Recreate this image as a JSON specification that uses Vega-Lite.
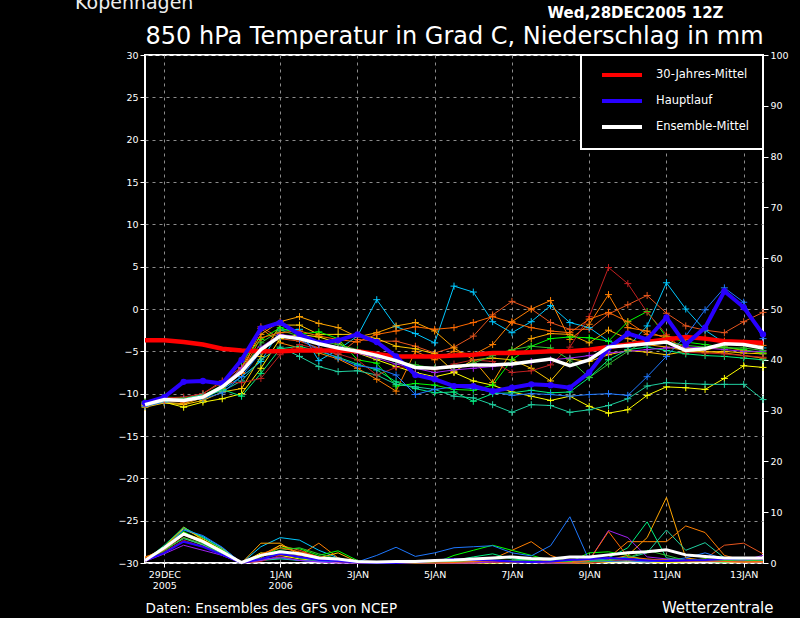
{
"$schema":"https://vega.github.io/schema/vega-lite/v6.json",
"width":618,"height":508,
"autosize":{"type":"none"},
"padding":{"left":145,"top":55,"right":37,"bottom":55},
"background":"black",
"title":{"text":"Kopenhagen","color":"#eeeeee","font":"DejaVu Sans","fontSize":19,"fontWeight":"normal","anchor":"start","frame":"group","dx":-70,"dy":14.5,"offset":-8.5,"baseline":"alphabetic"},
"datasets":{
"ens":[
{"m":"m01","t":"2005-12-28T12:00Z","T":-11.0,"P":0.8},{"m":"m01","t":"2005-12-29T00:00Z","T":-10.5,"P":2.5},{"m":"m01","t":"2005-12-29T12:00Z","T":-10.6,"P":5.5},{"m":"m01","t":"2005-12-30T00:00Z","T":-10.0,"P":4.0},{"m":"m01","t":"2005-12-30T12:00Z","T":-8.5,"P":2.0},{"m":"m01","t":"2005-12-31T00:00Z","T":-6.9,"P":0.2},{"m":"m01","t":"2005-12-31T12:00Z","T":-2.1,"P":1.0},{"m":"m01","t":"2006-01-01T00:00Z","T":-3.5,"P":3.5},{"m":"m01","t":"2006-01-01T12:00Z","T":-3.8,"P":2.5},{"m":"m01","t":"2006-01-02T00:00Z","T":-4.6,"P":1.2},{"m":"m01","t":"2006-01-02T12:00Z","T":-5.4,"P":0.8},{"m":"m01","t":"2006-01-03T00:00Z","T":-3.6,"P":0.2},{"m":"m01","t":"2006-01-03T12:00Z","T":-3.8,"P":0},{"m":"m01","t":"2006-01-04T00:00Z","T":-3.8,"P":0},{"m":"m01","t":"2006-01-04T12:00Z","T":-4.4,"P":0},{"m":"m01","t":"2006-01-05T00:00Z","T":-5.2,"P":0.1},{"m":"m01","t":"2006-01-05T12:00Z","T":-4.5,"P":0.2},{"m":"m01","t":"2006-01-06T00:00Z","T":-3.2,"P":0.3},{"m":"m01","t":"2006-01-06T12:00Z","T":-0.7,"P":0.5},{"m":"m01","t":"2006-01-07T00:00Z","T":0.9,"P":0.3},{"m":"m01","t":"2006-01-07T12:00Z","T":0.0,"P":0.2},{"m":"m01","t":"2006-01-08T00:00Z","T":-1.6,"P":0.1},{"m":"m01","t":"2006-01-08T12:00Z","T":-2.4,"P":0},{"m":"m01","t":"2006-01-09T00:00Z","T":-2.4,"P":0},{"m":"m01","t":"2006-01-09T12:00Z","T":-0.6,"P":0.3},{"m":"m01","t":"2006-01-10T00:00Z","T":0.5,"P":0.5},{"m":"m01","t":"2006-01-10T12:00Z","T":1.6,"P":0.4},{"m":"m01","t":"2006-01-11T00:00Z","T":-0.5,"P":0.6},{"m":"m01","t":"2006-01-11T12:00Z","T":-2.0,"P":0.5},{"m":"m01","t":"2006-01-12T00:00Z","T":-2.5,"P":0.8},{"m":"m01","t":"2006-01-12T12:00Z","T":-2.8,"P":3.5},{"m":"m01","t":"2006-01-13T00:00Z","T":-1.5,"P":3.9},{"m":"m01","t":"2006-01-13T12:00Z","T":-0.4,"P":1.8},
{"m":"m02","t":"2005-12-28T12:00Z","T":-11.2,"P":0.5},{"m":"m02","t":"2005-12-29T00:00Z","T":-10.6,"P":2.8},{"m":"m02","t":"2005-12-29T12:00Z","T":-10.9,"P":6.5},{"m":"m02","t":"2005-12-30T00:00Z","T":-10.3,"P":5.2},{"m":"m02","t":"2005-12-30T12:00Z","T":-9.5,"P":3.0},{"m":"m02","t":"2005-12-31T00:00Z","T":-8.0,"P":0},{"m":"m02","t":"2005-12-31T12:00Z","T":-6.2,"P":3.2},{"m":"m02","t":"2006-01-01T00:00Z","T":-2.5,"P":5.0},{"m":"m02","t":"2006-01-01T12:00Z","T":-2.4,"P":4.5},{"m":"m02","t":"2006-01-02T00:00Z","T":-6.1,"P":2.5},{"m":"m02","t":"2006-01-02T12:00Z","T":-4.8,"P":1.0},{"m":"m02","t":"2006-01-03T00:00Z","T":-3.2,"P":0},{"m":"m02","t":"2006-01-03T12:00Z","T":1.1,"P":0},{"m":"m02","t":"2006-01-04T00:00Z","T":-2.1,"P":0},{"m":"m02","t":"2006-01-04T12:00Z","T":-2.9,"P":0},{"m":"m02","t":"2006-01-05T00:00Z","T":-4.0,"P":0},{"m":"m02","t":"2006-01-05T12:00Z","T":2.7,"P":0.3},{"m":"m02","t":"2006-01-06T00:00Z","T":2.0,"P":0.5},{"m":"m02","t":"2006-01-06T12:00Z","T":-1.5,"P":0.4},{"m":"m02","t":"2006-01-07T00:00Z","T":-2.8,"P":0.3},{"m":"m02","t":"2006-01-07T12:00Z","T":-1.5,"P":0.8},{"m":"m02","t":"2006-01-08T00:00Z","T":0.4,"P":0.5},{"m":"m02","t":"2006-01-08T12:00Z","T":-1.6,"P":0.3},{"m":"m02","t":"2006-01-09T00:00Z","T":-2.2,"P":0.5},{"m":"m02","t":"2006-01-09T12:00Z","T":-3.8,"P":0.8},{"m":"m02","t":"2006-01-10T00:00Z","T":-4.5,"P":1.2},{"m":"m02","t":"2006-01-10T12:00Z","T":-2.0,"P":0.6},{"m":"m02","t":"2006-01-11T00:00Z","T":3.1,"P":0.4},{"m":"m02","t":"2006-01-11T12:00Z","T":0.0,"P":0.3},{"m":"m02","t":"2006-01-12T00:00Z","T":-2.5,"P":0.5},{"m":"m02","t":"2006-01-12T12:00Z","T":-4.0,"P":0.8},{"m":"m02","t":"2006-01-13T00:00Z","T":-4.3,"P":0.6},{"m":"m02","t":"2006-01-13T12:00Z","T":-4.6,"P":0.5},
{"m":"m03","t":"2005-12-28T12:00Z","T":-11.5,"P":1.0},{"m":"m03","t":"2005-12-29T00:00Z","T":-11.0,"P":3.0},{"m":"m03","t":"2005-12-29T12:00Z","T":-11.2,"P":7.1},{"m":"m03","t":"2005-12-30T00:00Z","T":-10.5,"P":4.5},{"m":"m03","t":"2005-12-30T12:00Z","T":-9.0,"P":2.5},{"m":"m03","t":"2005-12-31T00:00Z","T":-7.0,"P":0},{"m":"m03","t":"2005-12-31T12:00Z","T":-3.0,"P":3.9},{"m":"m03","t":"2006-01-01T00:00Z","T":-1.5,"P":3.9},{"m":"m03","t":"2006-01-01T12:00Z","T":-0.9,"P":1.5},{"m":"m03","t":"2006-01-02T00:00Z","T":-1.7,"P":0.8},{"m":"m03","t":"2006-01-02T12:00Z","T":-2.2,"P":0.3},{"m":"m03","t":"2006-01-03T00:00Z","T":-3.3,"P":0},{"m":"m03","t":"2006-01-03T12:00Z","T":-2.8,"P":0},{"m":"m03","t":"2006-01-04T00:00Z","T":-2.0,"P":0},{"m":"m03","t":"2006-01-04T12:00Z","T":-1.6,"P":0},{"m":"m03","t":"2006-01-05T00:00Z","T":-2.6,"P":0},{"m":"m03","t":"2006-01-05T12:00Z","T":-4.6,"P":0},{"m":"m03","t":"2006-01-06T00:00Z","T":-6.0,"P":0.2},{"m":"m03","t":"2006-01-06T12:00Z","T":-8.7,"P":0.3},{"m":"m03","t":"2006-01-07T00:00Z","T":-4.9,"P":0.5},{"m":"m03","t":"2006-01-07T12:00Z","T":-3.5,"P":0.8},{"m":"m03","t":"2006-01-08T00:00Z","T":-2.9,"P":0.3},{"m":"m03","t":"2006-01-08T12:00Z","T":-3.0,"P":0},{"m":"m03","t":"2006-01-09T00:00Z","T":-4.0,"P":0.1},{"m":"m03","t":"2006-01-09T12:00Z","T":-2.5,"P":0.6},{"m":"m03","t":"2006-01-10T00:00Z","T":-3.5,"P":1.5},{"m":"m03","t":"2006-01-10T12:00Z","T":-4.2,"P":5.0},{"m":"m03","t":"2006-01-11T00:00Z","T":-4.5,"P":12.9},{"m":"m03","t":"2006-01-11T12:00Z","T":-4.9,"P":1.0},{"m":"m03","t":"2006-01-12T00:00Z","T":-5.0,"P":0.5},{"m":"m03","t":"2006-01-12T12:00Z","T":-5.2,"P":0.3},{"m":"m03","t":"2006-01-13T00:00Z","T":-5.5,"P":0.3},{"m":"m03","t":"2006-01-13T12:00Z","T":-5.8,"P":0.2},
{"m":"m04","t":"2005-12-28T12:00Z","T":-11.3,"P":1.2},{"m":"m04","t":"2005-12-29T00:00Z","T":-10.8,"P":2.5},{"m":"m04","t":"2005-12-29T12:00Z","T":-10.9,"P":5.0},{"m":"m04","t":"2005-12-30T00:00Z","T":-10.4,"P":3.5},{"m":"m04","t":"2005-12-30T12:00Z","T":-9.4,"P":1.5},{"m":"m04","t":"2005-12-31T00:00Z","T":-7.6,"P":0},{"m":"m04","t":"2005-12-31T12:00Z","T":-2.3,"P":0.5},{"m":"m04","t":"2006-01-01T00:00Z","T":-4.0,"P":1.0},{"m":"m04","t":"2006-01-01T12:00Z","T":-4.6,"P":1.5},{"m":"m04","t":"2006-01-02T00:00Z","T":-5.2,"P":3.9},{"m":"m04","t":"2006-01-02T12:00Z","T":-5.9,"P":1.0},{"m":"m04","t":"2006-01-03T00:00Z","T":-7.0,"P":0},{"m":"m04","t":"2006-01-03T12:00Z","T":-8.3,"P":0},{"m":"m04","t":"2006-01-04T00:00Z","T":-9.7,"P":0},{"m":"m04","t":"2006-01-04T12:00Z","T":-5.0,"P":0},{"m":"m04","t":"2006-01-05T00:00Z","T":-6.0,"P":0},{"m":"m04","t":"2006-01-05T12:00Z","T":-5.0,"P":0.2},{"m":"m04","t":"2006-01-06T00:00Z","T":-5.4,"P":0.5},{"m":"m04","t":"2006-01-06T12:00Z","T":-4.2,"P":0.8},{"m":"m04","t":"2006-01-07T00:00Z","T":-1.5,"P":2.5},{"m":"m04","t":"2006-01-07T12:00Z","T":0.0,"P":4.2},{"m":"m04","t":"2006-01-08T00:00Z","T":1.0,"P":1.5},{"m":"m04","t":"2006-01-08T12:00Z","T":-3.6,"P":0.2},{"m":"m04","t":"2006-01-09T00:00Z","T":-1.8,"P":0.5},{"m":"m04","t":"2006-01-09T12:00Z","T":1.7,"P":1.0},{"m":"m04","t":"2006-01-10T00:00Z","T":-2.2,"P":4.2},{"m":"m04","t":"2006-01-10T12:00Z","T":-2.6,"P":4.2},{"m":"m04","t":"2006-01-11T00:00Z","T":-3.5,"P":4.2},{"m":"m04","t":"2006-01-11T12:00Z","T":-4.6,"P":7.3},{"m":"m04","t":"2006-01-12T00:00Z","T":-4.8,"P":6.0},{"m":"m04","t":"2006-01-12T12:00Z","T":-4.5,"P":1.5},{"m":"m04","t":"2006-01-13T00:00Z","T":-4.9,"P":0.5},{"m":"m04","t":"2006-01-13T12:00Z","T":-5.2,"P":0.8},
{"m":"m05","t":"2005-12-28T12:00Z","T":-11.6,"P":0.3},{"m":"m05","t":"2005-12-29T00:00Z","T":-11.1,"P":3.2},{"m":"m05","t":"2005-12-29T12:00Z","T":-11.3,"P":6.8},{"m":"m05","t":"2005-12-30T00:00Z","T":-10.8,"P":4.8},{"m":"m05","t":"2005-12-30T12:00Z","T":-9.8,"P":2.8},{"m":"m05","t":"2005-12-31T00:00Z","T":-9.4,"P":0.1},{"m":"m05","t":"2005-12-31T12:00Z","T":-5.6,"P":1.5},{"m":"m05","t":"2006-01-01T00:00Z","T":-1.9,"P":3.5},{"m":"m05","t":"2006-01-01T12:00Z","T":-1.9,"P":2.0},{"m":"m05","t":"2006-01-02T00:00Z","T":-3.0,"P":1.0},{"m":"m05","t":"2006-01-02T12:00Z","T":-3.0,"P":2.0},{"m":"m05","t":"2006-01-03T00:00Z","T":-3.0,"P":0.2},{"m":"m05","t":"2006-01-03T12:00Z","T":-3.5,"P":0},{"m":"m05","t":"2006-01-04T00:00Z","T":-4.4,"P":0},{"m":"m05","t":"2006-01-04T12:00Z","T":-4.7,"P":0},{"m":"m05","t":"2006-01-05T00:00Z","T":-5.3,"P":0},{"m":"m05","t":"2006-01-05T12:00Z","T":-7.4,"P":0},{"m":"m05","t":"2006-01-06T00:00Z","T":-6.0,"P":0},{"m":"m05","t":"2006-01-06T12:00Z","T":-5.8,"P":0.2},{"m":"m05","t":"2006-01-07T00:00Z","T":-6.0,"P":0.3},{"m":"m05","t":"2006-01-07T12:00Z","T":-7.0,"P":0.2},{"m":"m05","t":"2006-01-08T00:00Z","T":-8.5,"P":0},{"m":"m05","t":"2006-01-08T12:00Z","T":-5.9,"P":0},{"m":"m05","t":"2006-01-09T00:00Z","T":-6.2,"P":0.2},{"m":"m05","t":"2006-01-09T12:00Z","T":-5.4,"P":0.5},{"m":"m05","t":"2006-01-10T00:00Z","T":-4.9,"P":0.8},{"m":"m05","t":"2006-01-10T12:00Z","T":-5.1,"P":0.5},{"m":"m05","t":"2006-01-11T00:00Z","T":-5.4,"P":0.6},{"m":"m05","t":"2006-01-11T12:00Z","T":-5.0,"P":0.4},{"m":"m05","t":"2006-01-12T00:00Z","T":-5.1,"P":0.3},{"m":"m05","t":"2006-01-12T12:00Z","T":-5.0,"P":0.2},{"m":"m05","t":"2006-01-13T00:00Z","T":-5.2,"P":0.2},{"m":"m05","t":"2006-01-13T12:00Z","T":-5.3,"P":0.3},
{"m":"m06","t":"2005-12-28T12:00Z","T":-11.4,"P":0.2},{"m":"m06","t":"2005-12-29T00:00Z","T":-11.0,"P":2.9},{"m":"m06","t":"2005-12-29T12:00Z","T":-11.6,"P":6.0},{"m":"m06","t":"2005-12-30T00:00Z","T":-11.0,"P":4.5},{"m":"m06","t":"2005-12-30T12:00Z","T":-10.6,"P":2.5},{"m":"m06","t":"2005-12-31T00:00Z","T":-10.0,"P":0},{"m":"m06","t":"2005-12-31T12:00Z","T":-7.0,"P":2.0},{"m":"m06","t":"2006-01-01T00:00Z","T":-3.5,"P":1.5},{"m":"m06","t":"2006-01-01T12:00Z","T":-3.0,"P":0.8},{"m":"m06","t":"2006-01-02T00:00Z","T":-3.3,"P":0.5},{"m":"m06","t":"2006-01-02T12:00Z","T":-4.0,"P":0.2},{"m":"m06","t":"2006-01-03T00:00Z","T":-5.2,"P":0},{"m":"m06","t":"2006-01-03T12:00Z","T":-6.0,"P":0},{"m":"m06","t":"2006-01-04T00:00Z","T":-6.8,"P":0},{"m":"m06","t":"2006-01-04T12:00Z","T":-7.5,"P":0},{"m":"m06","t":"2006-01-05T00:00Z","T":-8.0,"P":0},{"m":"m06","t":"2006-01-05T12:00Z","T":-7.5,"P":0},{"m":"m06","t":"2006-01-06T00:00Z","T":-8.5,"P":0},{"m":"m06","t":"2006-01-06T12:00Z","T":-9.0,"P":0},{"m":"m06","t":"2006-01-07T00:00Z","T":-9.8,"P":0.1},{"m":"m06","t":"2006-01-07T12:00Z","T":-10.3,"P":0.2},{"m":"m06","t":"2006-01-08T00:00Z","T":-10.8,"P":0.1},{"m":"m06","t":"2006-01-08T12:00Z","T":-10.3,"P":0},{"m":"m06","t":"2006-01-09T00:00Z","T":-11.5,"P":0},{"m":"m06","t":"2006-01-09T12:00Z","T":-12.3,"P":0.2},{"m":"m06","t":"2006-01-10T00:00Z","T":-11.9,"P":0.3},{"m":"m06","t":"2006-01-10T12:00Z","T":-10.2,"P":0.2},{"m":"m06","t":"2006-01-11T00:00Z","T":-9.2,"P":0.1},{"m":"m06","t":"2006-01-11T12:00Z","T":-9.3,"P":0.2},{"m":"m06","t":"2006-01-12T00:00Z","T":-9.5,"P":0.3},{"m":"m06","t":"2006-01-12T12:00Z","T":-8.2,"P":0.5},{"m":"m06","t":"2006-01-13T00:00Z","T":-6.7,"P":0.4},{"m":"m06","t":"2006-01-13T12:00Z","T":-6.9,"P":0.3},
{"m":"m07","t":"2005-12-28T12:00Z","T":-11.0,"P":0.6},{"m":"m07","t":"2005-12-29T00:00Z","T":-10.4,"P":3.1},{"m":"m07","t":"2005-12-29T12:00Z","T":-10.5,"P":6.2},{"m":"m07","t":"2005-12-30T00:00Z","T":-10.2,"P":4.0},{"m":"m07","t":"2005-12-30T12:00Z","T":-9.0,"P":2.0},{"m":"m07","t":"2005-12-31T00:00Z","T":-6.2,"P":0},{"m":"m07","t":"2005-12-31T12:00Z","T":-3.6,"P":1.2},{"m":"m07","t":"2006-01-01T00:00Z","T":-2.2,"P":3.0},{"m":"m07","t":"2006-01-01T12:00Z","T":-3.0,"P":2.8},{"m":"m07","t":"2006-01-02T00:00Z","T":-2.7,"P":1.5},{"m":"m07","t":"2006-01-02T12:00Z","T":-3.5,"P":2.4},{"m":"m07","t":"2006-01-03T00:00Z","T":-6.0,"P":0.5},{"m":"m07","t":"2006-01-03T12:00Z","T":-6.4,"P":0},{"m":"m07","t":"2006-01-04T00:00Z","T":-9.1,"P":0},{"m":"m07","t":"2006-01-04T12:00Z","T":-8.8,"P":0},{"m":"m07","t":"2006-01-05T00:00Z","T":-9.0,"P":0},{"m":"m07","t":"2006-01-05T12:00Z","T":-9.5,"P":1.5},{"m":"m07","t":"2006-01-06T00:00Z","T":-9.6,"P":2.5},{"m":"m07","t":"2006-01-06T12:00Z","T":-9.0,"P":3.5},{"m":"m07","t":"2006-01-07T00:00Z","T":-6.0,"P":2.5},{"m":"m07","t":"2006-01-07T12:00Z","T":-4.4,"P":1.5},{"m":"m07","t":"2006-01-08T00:00Z","T":-3.5,"P":0.5},{"m":"m07","t":"2006-01-08T12:00Z","T":-3.3,"P":0.2},{"m":"m07","t":"2006-01-09T00:00Z","T":-3.4,"P":2.0},{"m":"m07","t":"2006-01-09T12:00Z","T":-3.8,"P":2.2},{"m":"m07","t":"2006-01-10T00:00Z","T":-1.5,"P":1.5},{"m":"m07","t":"2006-01-10T12:00Z","T":-0.3,"P":0.5},{"m":"m07","t":"2006-01-11T00:00Z","T":-3.3,"P":0.3},{"m":"m07","t":"2006-01-11T12:00Z","T":-3.9,"P":0.5},{"m":"m07","t":"2006-01-12T00:00Z","T":-4.2,"P":0.8},{"m":"m07","t":"2006-01-12T12:00Z","T":-4.5,"P":0.6},{"m":"m07","t":"2006-01-13T00:00Z","T":-4.8,"P":0.4},{"m":"m07","t":"2006-01-13T12:00Z","T":-5.2,"P":0.5},
{"m":"m08","t":"2005-12-28T12:00Z","T":-11.3,"P":0.4},{"m":"m08","t":"2005-12-29T00:00Z","T":-10.9,"P":3.5},{"m":"m08","t":"2005-12-29T12:00Z","T":-10.8,"P":7.0},{"m":"m08","t":"2005-12-30T00:00Z","T":-10.6,"P":5.0},{"m":"m08","t":"2005-12-30T12:00Z","T":-9.5,"P":2.7},{"m":"m08","t":"2005-12-31T00:00Z","T":-10.3,"P":0},{"m":"m08","t":"2005-12-31T12:00Z","T":-7.6,"P":0.8},{"m":"m08","t":"2006-01-01T00:00Z","T":-4.7,"P":2.0},{"m":"m08","t":"2006-01-01T12:00Z","T":-4.4,"P":1.0},{"m":"m08","t":"2006-01-02T00:00Z","T":-5.0,"P":0.5},{"m":"m08","t":"2006-01-02T12:00Z","T":-5.7,"P":0.5},{"m":"m08","t":"2006-01-03T00:00Z","T":-6.5,"P":0},{"m":"m08","t":"2006-01-03T12:00Z","T":-7.2,"P":0},{"m":"m08","t":"2006-01-04T00:00Z","T":-8.6,"P":0},{"m":"m08","t":"2006-01-04T12:00Z","T":-9.4,"P":0},{"m":"m08","t":"2006-01-05T00:00Z","T":-9.9,"P":0},{"m":"m08","t":"2006-01-05T12:00Z","T":-9.8,"P":0.5},{"m":"m08","t":"2006-01-06T00:00Z","T":-10.9,"P":1.2},{"m":"m08","t":"2006-01-06T12:00Z","T":-10.0,"P":1.8},{"m":"m08","t":"2006-01-07T00:00Z","T":-9.9,"P":0.8},{"m":"m08","t":"2006-01-07T12:00Z","T":-9.6,"P":0.5},{"m":"m08","t":"2006-01-08T00:00Z","T":-9.9,"P":0.2},{"m":"m08","t":"2006-01-08T12:00Z","T":-9.8,"P":0},{"m":"m08","t":"2006-01-09T00:00Z","T":-8.1,"P":0.3},{"m":"m08","t":"2006-01-09T12:00Z","T":-6.0,"P":1.0},{"m":"m08","t":"2006-01-10T00:00Z","T":-4.8,"P":3.0},{"m":"m08","t":"2006-01-10T12:00Z","T":-4.5,"P":8.1},{"m":"m08","t":"2006-01-11T00:00Z","T":-4.9,"P":1.0},{"m":"m08","t":"2006-01-11T12:00Z","T":-5.3,"P":0.5},{"m":"m08","t":"2006-01-12T00:00Z","T":-5.5,"P":0.3},{"m":"m08","t":"2006-01-12T12:00Z","T":-5.6,"P":0.2},{"m":"m08","t":"2006-01-13T00:00Z","T":-5.8,"P":0.4},{"m":"m08","t":"2006-01-13T12:00Z","T":-6.0,"P":0.5},
{"m":"m09","t":"2005-12-28T12:00Z","T":-11.2,"P":0.5},{"m":"m09","t":"2005-12-29T00:00Z","T":-10.7,"P":2.6},{"m":"m09","t":"2005-12-29T12:00Z","T":-10.6,"P":4.8},{"m":"m09","t":"2005-12-30T00:00Z","T":-10.1,"P":3.6},{"m":"m09","t":"2005-12-30T12:00Z","T":-9.7,"P":1.8},{"m":"m09","t":"2005-12-31T00:00Z","T":-8.5,"P":0},{"m":"m09","t":"2005-12-31T12:00Z","T":-6.0,"P":0.5},{"m":"m09","t":"2006-01-01T00:00Z","T":-4.5,"P":0.8},{"m":"m09","t":"2006-01-01T12:00Z","T":-5.6,"P":0.5},{"m":"m09","t":"2006-01-02T00:00Z","T":-6.8,"P":0.3},{"m":"m09","t":"2006-01-02T12:00Z","T":-7.4,"P":0.3},{"m":"m09","t":"2006-01-03T00:00Z","T":-7.3,"P":0},{"m":"m09","t":"2006-01-03T12:00Z","T":-7.8,"P":0},{"m":"m09","t":"2006-01-04T00:00Z","T":-8.9,"P":0},{"m":"m09","t":"2006-01-04T12:00Z","T":-9.2,"P":0},{"m":"m09","t":"2006-01-05T00:00Z","T":-9.5,"P":0},{"m":"m09","t":"2006-01-05T12:00Z","T":-10.3,"P":0.2},{"m":"m09","t":"2006-01-06T00:00Z","T":-10.5,"P":0.3},{"m":"m09","t":"2006-01-06T12:00Z","T":-11.3,"P":0.5},{"m":"m09","t":"2006-01-07T00:00Z","T":-12.2,"P":0.3},{"m":"m09","t":"2006-01-07T12:00Z","T":-11.3,"P":0.2},{"m":"m09","t":"2006-01-08T00:00Z","T":-11.4,"P":0},{"m":"m09","t":"2006-01-08T12:00Z","T":-12.2,"P":0},{"m":"m09","t":"2006-01-09T00:00Z","T":-11.9,"P":0.2},{"m":"m09","t":"2006-01-09T12:00Z","T":-11.4,"P":0.5},{"m":"m09","t":"2006-01-10T00:00Z","T":-10.6,"P":1.0},{"m":"m09","t":"2006-01-10T12:00Z","T":-9.1,"P":2.0},{"m":"m09","t":"2006-01-11T00:00Z","T":-8.7,"P":6.5},{"m":"m09","t":"2006-01-11T12:00Z","T":-8.8,"P":2.5},{"m":"m09","t":"2006-01-12T00:00Z","T":-8.9,"P":4.0},{"m":"m09","t":"2006-01-12T12:00Z","T":-8.9,"P":1.0},{"m":"m09","t":"2006-01-13T00:00Z","T":-8.9,"P":0.5},{"m":"m09","t":"2006-01-13T12:00Z","T":-10.7,"P":0.3},
{"m":"m10","t":"2005-12-28T12:00Z","T":-11.1,"P":0.9},{"m":"m10","t":"2005-12-29T00:00Z","T":-10.5,"P":2.2},{"m":"m10","t":"2005-12-29T12:00Z","T":-10.4,"P":4.5},{"m":"m10","t":"2005-12-30T00:00Z","T":-10.0,"P":3.2},{"m":"m10","t":"2005-12-30T12:00Z","T":-8.7,"P":1.6},{"m":"m10","t":"2005-12-31T00:00Z","T":-8.7,"P":0},{"m":"m10","t":"2005-12-31T12:00Z","T":-8.2,"P":0.3},{"m":"m10","t":"2006-01-01T00:00Z","T":-5.4,"P":1.5},{"m":"m10","t":"2006-01-01T12:00Z","T":-4.2,"P":2.0},{"m":"m10","t":"2006-01-02T00:00Z","T":-4.7,"P":1.0},{"m":"m10","t":"2006-01-02T12:00Z","T":-5.3,"P":0.2},{"m":"m10","t":"2006-01-03T00:00Z","T":-6.0,"P":0},{"m":"m10","t":"2006-01-03T12:00Z","T":-7.8,"P":0},{"m":"m10","t":"2006-01-04T00:00Z","T":-6.9,"P":0},{"m":"m10","t":"2006-01-04T12:00Z","T":-6.8,"P":0},{"m":"m10","t":"2006-01-05T00:00Z","T":-7.2,"P":0},{"m":"m10","t":"2006-01-05T12:00Z","T":-6.5,"P":0},{"m":"m10","t":"2006-01-06T00:00Z","T":-6.0,"P":0},{"m":"m10","t":"2006-01-06T12:00Z","T":-6.2,"P":0.1},{"m":"m10","t":"2006-01-07T00:00Z","T":-7.5,"P":0.2},{"m":"m10","t":"2006-01-07T12:00Z","T":-7.3,"P":0.1},{"m":"m10","t":"2006-01-08T00:00Z","T":-6.6,"P":0},{"m":"m10","t":"2006-01-08T12:00Z","T":-4.5,"P":0},{"m":"m10","t":"2006-01-09T00:00Z","T":-0.9,"P":0},{"m":"m10","t":"2006-01-09T12:00Z","T":4.9,"P":0.3},{"m":"m10","t":"2006-01-10T00:00Z","T":3.0,"P":0.8},{"m":"m10","t":"2006-01-10T12:00Z","T":-0.4,"P":0.5},{"m":"m10","t":"2006-01-11T00:00Z","T":-3.0,"P":0.3},{"m":"m10","t":"2006-01-11T12:00Z","T":-5.1,"P":0.4},{"m":"m10","t":"2006-01-12T00:00Z","T":-5.2,"P":0.6},{"m":"m10","t":"2006-01-12T12:00Z","T":-5.3,"P":0.3},{"m":"m10","t":"2006-01-13T00:00Z","T":-5.5,"P":0.2},{"m":"m10","t":"2006-01-13T12:00Z","T":-5.7,"P":0.2},
{"m":"m11","t":"2005-12-28T12:00Z","T":-11.5,"P":0.7},{"m":"m11","t":"2005-12-29T00:00Z","T":-11.0,"P":2.7},{"m":"m11","t":"2005-12-29T12:00Z","T":-10.9,"P":6.6},{"m":"m11","t":"2005-12-30T00:00Z","T":-10.6,"P":5.4},{"m":"m11","t":"2005-12-30T12:00Z","T":-9.9,"P":3.1},{"m":"m11","t":"2005-12-31T00:00Z","T":-8.0,"P":0},{"m":"m11","t":"2005-12-31T12:00Z","T":-5.0,"P":0.8},{"m":"m11","t":"2006-01-01T00:00Z","T":-3.3,"P":1.0},{"m":"m11","t":"2006-01-01T12:00Z","T":-3.6,"P":0.5},{"m":"m11","t":"2006-01-02T00:00Z","T":-4.8,"P":0.3},{"m":"m11","t":"2006-01-02T12:00Z","T":-5.8,"P":0.5},{"m":"m11","t":"2006-01-03T00:00Z","T":-6.7,"P":0.2},{"m":"m11","t":"2006-01-03T12:00Z","T":-7.0,"P":1.5},{"m":"m11","t":"2006-01-04T00:00Z","T":-7.8,"P":3.1},{"m":"m11","t":"2006-01-04T12:00Z","T":-10.1,"P":1.3},{"m":"m11","t":"2006-01-05T00:00Z","T":-9.5,"P":2.0},{"m":"m11","t":"2006-01-05T12:00Z","T":-9.2,"P":3.0},{"m":"m11","t":"2006-01-06T00:00Z","T":-9.4,"P":3.2},{"m":"m11","t":"2006-01-06T12:00Z","T":-9.8,"P":3.4},{"m":"m11","t":"2006-01-07T00:00Z","T":-10.2,"P":2.0},{"m":"m11","t":"2006-01-07T12:00Z","T":-10.0,"P":1.4},{"m":"m11","t":"2006-01-08T00:00Z","T":-10.1,"P":3.4},{"m":"m11","t":"2006-01-08T12:00Z","T":-10.3,"P":9.1},{"m":"m11","t":"2006-01-09T00:00Z","T":-10.1,"P":0.5},{"m":"m11","t":"2006-01-09T12:00Z","T":-10.0,"P":0.3},{"m":"m11","t":"2006-01-10T00:00Z","T":-10.2,"P":0.4},{"m":"m11","t":"2006-01-10T12:00Z","T":-8.0,"P":0.2},{"m":"m11","t":"2006-01-11T00:00Z","T":-5.6,"P":0.5},{"m":"m11","t":"2006-01-11T12:00Z","T":-3.2,"P":1.0},{"m":"m11","t":"2006-01-12T00:00Z","T":-0.1,"P":2.0},{"m":"m11","t":"2006-01-12T12:00Z","T":2.5,"P":0.8},{"m":"m11","t":"2006-01-13T00:00Z","T":0.8,"P":0.6},{"m":"m11","t":"2006-01-13T12:00Z","T":-3.5,"P":0.5},
{"m":"m12","t":"2005-12-28T12:00Z","T":-11.2,"P":0.3},{"m":"m12","t":"2005-12-29T00:00Z","T":-10.8,"P":1.8},{"m":"m12","t":"2005-12-29T12:00Z","T":-10.7,"P":3.5},{"m":"m12","t":"2005-12-30T00:00Z","T":-10.3,"P":2.5},{"m":"m12","t":"2005-12-30T12:00Z","T":-9.1,"P":1.5},{"m":"m12","t":"2005-12-31T00:00Z","T":-7.0,"P":0},{"m":"m12","t":"2005-12-31T12:00Z","T":-4.5,"P":0.5},{"m":"m12","t":"2006-01-01T00:00Z","T":-3.0,"P":1.2},{"m":"m12","t":"2006-01-01T12:00Z","T":-3.3,"P":0.5},{"m":"m12","t":"2006-01-02T00:00Z","T":-4.0,"P":0.2},{"m":"m12","t":"2006-01-02T12:00Z","T":-4.5,"P":0},{"m":"m12","t":"2006-01-03T00:00Z","T":-5.2,"P":0},{"m":"m12","t":"2006-01-03T12:00Z","T":-5.8,"P":0},{"m":"m12","t":"2006-01-04T00:00Z","T":-6.5,"P":0},{"m":"m12","t":"2006-01-04T12:00Z","T":-7.0,"P":0},{"m":"m12","t":"2006-01-05T00:00Z","T":-7.5,"P":0},{"m":"m12","t":"2006-01-05T12:00Z","T":-7.2,"P":0},{"m":"m12","t":"2006-01-06T00:00Z","T":-7.0,"P":0},{"m":"m12","t":"2006-01-06T12:00Z","T":-6.8,"P":0.2},{"m":"m12","t":"2006-01-07T00:00Z","T":-6.5,"P":0.3},{"m":"m12","t":"2006-01-07T12:00Z","T":-6.2,"P":0.1},{"m":"m12","t":"2006-01-08T00:00Z","T":-6.0,"P":0},{"m":"m12","t":"2006-01-08T12:00Z","T":-5.8,"P":0},{"m":"m12","t":"2006-01-09T00:00Z","T":-5.5,"P":0.5},{"m":"m12","t":"2006-01-09T12:00Z","T":-5.2,"P":6.4},{"m":"m12","t":"2006-01-10T00:00Z","T":-5.0,"P":5.0},{"m":"m12","t":"2006-01-10T12:00Z","T":-4.8,"P":1.2},{"m":"m12","t":"2006-01-11T00:00Z","T":-4.6,"P":0.8},{"m":"m12","t":"2006-01-11T12:00Z","T":-4.5,"P":0.6},{"m":"m12","t":"2006-01-12T00:00Z","T":-4.6,"P":0.3},{"m":"m12","t":"2006-01-12T12:00Z","T":-4.8,"P":0.3},{"m":"m12","t":"2006-01-13T00:00Z","T":-5.0,"P":0.5},{"m":"m12","t":"2006-01-13T12:00Z","T":-5.0,"P":1.5},
{"m":"m13","t":"2005-12-28T12:00Z","T":-11.0,"P":0.5},{"m":"m13","t":"2005-12-29T00:00Z","T":-10.6,"P":2.4},{"m":"m13","t":"2005-12-29T12:00Z","T":-10.8,"P":5.0},{"m":"m13","t":"2005-12-30T00:00Z","T":-10.3,"P":3.8},{"m":"m13","t":"2005-12-30T12:00Z","T":-9.3,"P":2.0},{"m":"m13","t":"2005-12-31T00:00Z","T":-7.5,"P":0},{"m":"m13","t":"2005-12-31T12:00Z","T":-4.0,"P":1.5},{"m":"m13","t":"2006-01-01T00:00Z","T":-2.5,"P":2.5},{"m":"m13","t":"2006-01-01T12:00Z","T":-3.2,"P":3.0},{"m":"m13","t":"2006-01-02T00:00Z","T":-3.8,"P":1.8},{"m":"m13","t":"2006-01-02T12:00Z","T":-4.2,"P":0.8},{"m":"m13","t":"2006-01-03T00:00Z","T":-4.8,"P":0.1},{"m":"m13","t":"2006-01-03T12:00Z","T":-5.5,"P":0},{"m":"m13","t":"2006-01-04T00:00Z","T":-6.2,"P":0},{"m":"m13","t":"2006-01-04T12:00Z","T":-6.6,"P":0},{"m":"m13","t":"2006-01-05T00:00Z","T":-7.0,"P":0.2},{"m":"m13","t":"2006-01-05T12:00Z","T":-6.9,"P":0.3},{"m":"m13","t":"2006-01-06T00:00Z","T":-6.4,"P":0.5},{"m":"m13","t":"2006-01-06T12:00Z","T":-5.5,"P":0.6},{"m":"m13","t":"2006-01-07T00:00Z","T":-4.8,"P":0.5},{"m":"m13","t":"2006-01-07T12:00Z","T":-4.4,"P":0.4},{"m":"m13","t":"2006-01-08T00:00Z","T":-4.6,"P":0.8},{"m":"m13","t":"2006-01-08T12:00Z","T":-6.0,"P":0.5},{"m":"m13","t":"2006-01-09T00:00Z","T":-8.1,"P":0.3},{"m":"m13","t":"2006-01-09T12:00Z","T":-6.5,"P":0.5},{"m":"m13","t":"2006-01-10T00:00Z","T":-5.0,"P":1.0},{"m":"m13","t":"2006-01-10T12:00Z","T":-3.6,"P":2.5},{"m":"m13","t":"2006-01-11T00:00Z","T":-3.9,"P":1.5},{"m":"m13","t":"2006-01-11T12:00Z","T":-4.3,"P":0.5},{"m":"m13","t":"2006-01-12T00:00Z","T":-4.5,"P":0.4},{"m":"m13","t":"2006-01-12T12:00Z","T":-4.6,"P":0.5},{"m":"m13","t":"2006-01-13T00:00Z","T":-4.6,"P":0.6},{"m":"m13","t":"2006-01-13T12:00Z","T":-4.9,"P":0.4},
{"m":"m14","t":"2005-12-28T12:00Z","T":-11.3,"P":0.6},{"m":"m14","t":"2005-12-29T00:00Z","T":-10.8,"P":2.6},{"m":"m14","t":"2005-12-29T12:00Z","T":-11.0,"P":5.8},{"m":"m14","t":"2005-12-30T00:00Z","T":-10.5,"P":4.2},{"m":"m14","t":"2005-12-30T12:00Z","T":-9.0,"P":2.2},{"m":"m14","t":"2005-12-31T00:00Z","T":-7.5,"P":0},{"m":"m14","t":"2005-12-31T12:00Z","T":-3.4,"P":1.8},{"m":"m14","t":"2006-01-01T00:00Z","T":-2.8,"P":3.0},{"m":"m14","t":"2006-01-01T12:00Z","T":-2.6,"P":2.2},{"m":"m14","t":"2006-01-02T00:00Z","T":-3.2,"P":1.2},{"m":"m14","t":"2006-01-02T12:00Z","T":-3.6,"P":0.5},{"m":"m14","t":"2006-01-03T00:00Z","T":-3.9,"P":0},{"m":"m14","t":"2006-01-03T12:00Z","T":-3.0,"P":0},{"m":"m14","t":"2006-01-04T00:00Z","T":-2.6,"P":0},{"m":"m14","t":"2006-01-04T12:00Z","T":-2.1,"P":0},{"m":"m14","t":"2006-01-05T00:00Z","T":-2.4,"P":0},{"m":"m14","t":"2006-01-05T12:00Z","T":-2.2,"P":0.1},{"m":"m14","t":"2006-01-06T00:00Z","T":-1.6,"P":0.3},{"m":"m14","t":"2006-01-06T12:00Z","T":-0.9,"P":0.3},{"m":"m14","t":"2006-01-07T00:00Z","T":-1.6,"P":0.2},{"m":"m14","t":"2006-01-07T12:00Z","T":-2.2,"P":0.3},{"m":"m14","t":"2006-01-08T00:00Z","T":-2.6,"P":0.2},{"m":"m14","t":"2006-01-08T12:00Z","T":-2.8,"P":0},{"m":"m14","t":"2006-01-09T00:00Z","T":-1.2,"P":0.5},{"m":"m14","t":"2006-01-09T12:00Z","T":-0.4,"P":6.2},{"m":"m14","t":"2006-01-10T00:00Z","T":-1.5,"P":1.2},{"m":"m14","t":"2006-01-10T12:00Z","T":-3.0,"P":0.8},{"m":"m14","t":"2006-01-11T00:00Z","T":-3.2,"P":0.5},{"m":"m14","t":"2006-01-11T12:00Z","T":-3.6,"P":0.3},{"m":"m14","t":"2006-01-12T00:00Z","T":-3.4,"P":0.4},{"m":"m14","t":"2006-01-12T12:00Z","T":-3.8,"P":0.3},{"m":"m14","t":"2006-01-13T00:00Z","T":-4.0,"P":0.2},{"m":"m14","t":"2006-01-13T12:00Z","T":-4.3,"P":0.3}
],
"spec":[
{"s":"30-Jahres-Mittel","t":"2005-12-28T12:00Z","T":-3.7},{"s":"30-Jahres-Mittel","t":"2005-12-29T00:00Z","T":-3.7},{"s":"30-Jahres-Mittel","t":"2005-12-29T12:00Z","T":-3.9},{"s":"30-Jahres-Mittel","t":"2005-12-30T00:00Z","T":-4.2},{"s":"30-Jahres-Mittel","t":"2005-12-30T12:00Z","T":-4.7},{"s":"30-Jahres-Mittel","t":"2005-12-31T00:00Z","T":-4.9},{"s":"30-Jahres-Mittel","t":"2005-12-31T12:00Z","T":-5.0},{"s":"30-Jahres-Mittel","t":"2006-01-01T00:00Z","T":-5.0},{"s":"30-Jahres-Mittel","t":"2006-01-01T12:00Z","T":-4.9},{"s":"30-Jahres-Mittel","t":"2006-01-02T00:00Z","T":-4.9},{"s":"30-Jahres-Mittel","t":"2006-01-02T12:00Z","T":-4.9},{"s":"30-Jahres-Mittel","t":"2006-01-03T00:00Z","T":-5.0},{"s":"30-Jahres-Mittel","t":"2006-01-03T12:00Z","T":-5.3},{"s":"30-Jahres-Mittel","t":"2006-01-04T00:00Z","T":-5.6},{"s":"30-Jahres-Mittel","t":"2006-01-04T12:00Z","T":-5.6},{"s":"30-Jahres-Mittel","t":"2006-01-05T00:00Z","T":-5.6},{"s":"30-Jahres-Mittel","t":"2006-01-05T12:00Z","T":-5.5},{"s":"30-Jahres-Mittel","t":"2006-01-06T00:00Z","T":-5.4},{"s":"30-Jahres-Mittel","t":"2006-01-06T12:00Z","T":-5.2},{"s":"30-Jahres-Mittel","t":"2006-01-07T00:00Z","T":-5.2},{"s":"30-Jahres-Mittel","t":"2006-01-07T12:00Z","T":-5.1},{"s":"30-Jahres-Mittel","t":"2006-01-08T00:00Z","T":-5.0},{"s":"30-Jahres-Mittel","t":"2006-01-08T12:00Z","T":-5.0},{"s":"30-Jahres-Mittel","t":"2006-01-09T00:00Z","T":-4.8},{"s":"30-Jahres-Mittel","t":"2006-01-09T12:00Z","T":-4.5},{"s":"30-Jahres-Mittel","t":"2006-01-10T00:00Z","T":-4.2},{"s":"30-Jahres-Mittel","t":"2006-01-10T12:00Z","T":-3.9},{"s":"30-Jahres-Mittel","t":"2006-01-11T00:00Z","T":-3.6},{"s":"30-Jahres-Mittel","t":"2006-01-11T12:00Z","T":-3.3},{"s":"30-Jahres-Mittel","t":"2006-01-12T00:00Z","T":-3.5},{"s":"30-Jahres-Mittel","t":"2006-01-12T12:00Z","T":-3.8},{"s":"30-Jahres-Mittel","t":"2006-01-13T00:00Z","T":-3.9},{"s":"30-Jahres-Mittel","t":"2006-01-13T12:00Z","T":-4.0},
{"s":"Hauptlauf","t":"2005-12-28T12:00Z","T":-11.1,"P":0.5},{"s":"Hauptlauf","t":"2005-12-29T00:00Z","T":-10.4,"P":2.0},{"s":"Hauptlauf","t":"2005-12-29T12:00Z","T":-8.6,"P":4.2},{"s":"Hauptlauf","t":"2005-12-30T00:00Z","T":-8.5,"P":3.2},{"s":"Hauptlauf","t":"2005-12-30T12:00Z","T":-8.8,"P":1.6},{"s":"Hauptlauf","t":"2005-12-31T00:00Z","T":-6.0,"P":0},{"s":"Hauptlauf","t":"2005-12-31T12:00Z","T":-2.3,"P":0.8},{"s":"Hauptlauf","t":"2006-01-01T00:00Z","T":-1.6,"P":1.8},{"s":"Hauptlauf","t":"2006-01-01T12:00Z","T":-3.0,"P":1.2},{"s":"Hauptlauf","t":"2006-01-02T00:00Z","T":-4.0,"P":0.6},{"s":"Hauptlauf","t":"2006-01-02T12:00Z","T":-3.7,"P":0.4},{"s":"Hauptlauf","t":"2006-01-03T00:00Z","T":-3.0,"P":0.1},{"s":"Hauptlauf","t":"2006-01-03T12:00Z","T":-3.9,"P":0},{"s":"Hauptlauf","t":"2006-01-04T00:00Z","T":-5.6,"P":0},{"s":"Hauptlauf","t":"2006-01-04T12:00Z","T":-7.8,"P":0.2},{"s":"Hauptlauf","t":"2006-01-05T00:00Z","T":-8.3,"P":0.5},{"s":"Hauptlauf","t":"2006-01-05T12:00Z","T":-9.1,"P":0.8},{"s":"Hauptlauf","t":"2006-01-06T00:00Z","T":-9.1,"P":0.6},{"s":"Hauptlauf","t":"2006-01-06T12:00Z","T":-9.7,"P":0.5},{"s":"Hauptlauf","t":"2006-01-07T00:00Z","T":-9.3,"P":0.3},{"s":"Hauptlauf","t":"2006-01-07T12:00Z","T":-8.9,"P":0.2},{"s":"Hauptlauf","t":"2006-01-08T00:00Z","T":-9.0,"P":0.3},{"s":"Hauptlauf","t":"2006-01-08T12:00Z","T":-9.3,"P":0.6},{"s":"Hauptlauf","t":"2006-01-09T00:00Z","T":-7.5,"P":0.8},{"s":"Hauptlauf","t":"2006-01-09T12:00Z","T":-4.6,"P":1.0},{"s":"Hauptlauf","t":"2006-01-10T00:00Z","T":-2.9,"P":0.8},{"s":"Hauptlauf","t":"2006-01-10T12:00Z","T":-3.6,"P":0.5},{"s":"Hauptlauf","t":"2006-01-11T00:00Z","T":-1.0,"P":0.4},{"s":"Hauptlauf","t":"2006-01-11T12:00Z","T":-4.2,"P":0.5},{"s":"Hauptlauf","t":"2006-01-12T00:00Z","T":-2.2,"P":0.6},{"s":"Hauptlauf","t":"2006-01-12T12:00Z","T":2.1,"P":0.8},{"s":"Hauptlauf","t":"2006-01-13T00:00Z","T":0.2,"P":1.0},{"s":"Hauptlauf","t":"2006-01-13T12:00Z","T":-3.0,"P":0.9},
{"s":"Ensemble-Mittel","t":"2005-12-28T12:00Z","T":-11.3,"P":0.5},{"s":"Ensemble-Mittel","t":"2005-12-29T00:00Z","T":-10.7,"P":3.0},{"s":"Ensemble-Mittel","t":"2005-12-29T12:00Z","T":-10.8,"P":5.7},{"s":"Ensemble-Mittel","t":"2005-12-30T00:00Z","T":-10.4,"P":4.2},{"s":"Ensemble-Mittel","t":"2005-12-30T12:00Z","T":-9.2,"P":2.2},{"s":"Ensemble-Mittel","t":"2005-12-31T00:00Z","T":-7.4,"P":0.1},{"s":"Ensemble-Mittel","t":"2005-12-31T12:00Z","T":-4.8,"P":1.5},{"s":"Ensemble-Mittel","t":"2006-01-01T00:00Z","T":-3.2,"P":2.2},{"s":"Ensemble-Mittel","t":"2006-01-01T12:00Z","T":-3.5,"P":1.8},{"s":"Ensemble-Mittel","t":"2006-01-02T00:00Z","T":-4.1,"P":1.0},{"s":"Ensemble-Mittel","t":"2006-01-02T12:00Z","T":-4.6,"P":0.8},{"s":"Ensemble-Mittel","t":"2006-01-03T00:00Z","T":-5.0,"P":0.3},{"s":"Ensemble-Mittel","t":"2006-01-03T12:00Z","T":-5.5,"P":0.2},{"s":"Ensemble-Mittel","t":"2006-01-04T00:00Z","T":-6.1,"P":0.3},{"s":"Ensemble-Mittel","t":"2006-01-04T12:00Z","T":-6.9,"P":0.3},{"s":"Ensemble-Mittel","t":"2006-01-05T00:00Z","T":-7.0,"P":0.5},{"s":"Ensemble-Mittel","t":"2006-01-05T12:00Z","T":-6.8,"P":0.6},{"s":"Ensemble-Mittel","t":"2006-01-06T00:00Z","T":-6.6,"P":0.8},{"s":"Ensemble-Mittel","t":"2006-01-06T12:00Z","T":-6.6,"P":1.0},{"s":"Ensemble-Mittel","t":"2006-01-07T00:00Z","T":-6.5,"P":1.2},{"s":"Ensemble-Mittel","t":"2006-01-07T12:00Z","T":-6.2,"P":0.9},{"s":"Ensemble-Mittel","t":"2006-01-08T00:00Z","T":-5.9,"P":0.8},{"s":"Ensemble-Mittel","t":"2006-01-08T12:00Z","T":-6.7,"P":1.2},{"s":"Ensemble-Mittel","t":"2006-01-09T00:00Z","T":-6.0,"P":1.2},{"s":"Ensemble-Mittel","t":"2006-01-09T12:00Z","T":-4.5,"P":1.6},{"s":"Ensemble-Mittel","t":"2006-01-10T00:00Z","T":-4.3,"P":2.0},{"s":"Ensemble-Mittel","t":"2006-01-10T12:00Z","T":-4.1,"P":2.2},{"s":"Ensemble-Mittel","t":"2006-01-11T00:00Z","T":-3.9,"P":2.6},{"s":"Ensemble-Mittel","t":"2006-01-11T12:00Z","T":-4.9,"P":1.6},{"s":"Ensemble-Mittel","t":"2006-01-12T00:00Z","T":-4.7,"P":1.3},{"s":"Ensemble-Mittel","t":"2006-01-12T12:00Z","T":-4.1,"P":1.0},{"s":"Ensemble-Mittel","t":"2006-01-13T00:00Z","T":-4.2,"P":1.0},{"s":"Ensemble-Mittel","t":"2006-01-13T12:00Z","T":-4.6,"P":1.0}
]
},
"encoding":{
"x":{"field":"t","type":"temporal","scale":{"type":"utc","domain":[1135771200000,1137153600000]},"axis":null}
},
"layer":[
{"data":{"name":"ens"},"mark":{"type":"line","strokeWidth":1},"encoding":{"x":{"field":"t","type":"temporal","scale":{"type":"utc","domain":[1135771200000,1137153600000]},"axis":{"orient":"bottom","title":"Daten: Ensembles des GFS von NCEP","titleAnchor":"start","titleAlign":"left","titleFont":"DejaVu Sans","titleFontSize":13.5,"titleFontWeight":"normal","titleColor":"white","titlePadding":12,"values":[1135814400000,1136073600000,1136246400000,1136419200000,1136592000000,1136764800000,1136937600000,1137110400000],"labelExpr":"(utcdate(datum.value) == 29 || utcdate(datum.value) == 1) ? [utcdate(datum.value) + upper(utcFormat(datum.value, '%b')), utcFormat(datum.value, '%Y')] : utcdate(datum.value) + upper(utcFormat(datum.value, '%b'))","labelLineHeight":11,"tickSize":4,"labelPadding":2,"grid":true}},"y":{"field":"P","type":"quantitative","scale":{"domain":[0,100],"nice":false},"axis":{"orient":"right","values":[0,10,20,30,40,50,60,70,80,90,100],"title":"Wed,28DEC2005 12Z","titleAngle":0,"titleAlign":"right","titleBaseline":"alphabetic","titleX":-40,"titleY":-37.7,"titleFont":"DejaVu Sans","titleFontSize":15,"titleFontWeight":"bold","titleColor":"white","grid":false,"tickSize":5,"labelPadding":2}},"stroke":{"field":"m","type":"nominal","scale":{"domain":["m01","m02","m03","m04","m05","m06","m07","m08","m09","m10","m11","m12","m13","m14"],"range":["#E8561E","#00C8FF","#FFA500","#FF7F00","#FFC800","#FFFF00","#00FF00","#00F080","#20D0A0","#C02020","#1E78FF","#A020F0","#30C030","#FF6A00"]},"legend":null}}},
{"data":{"name":"spec"},"transform":[{"filter":{"field":"s","equal":"Hauptlauf"}}],"mark":{"type":"line","strokeWidth":2},"encoding":{"y":{"field":"P","type":"quantitative","scale":{"domain":[0,100],"nice":false},"axis":null},"color":{"field":"s","type":"nominal","scale":{"domain":["30-Jahres-Mittel","Hauptlauf","Ensemble-Mittel"],"range":["#FF0000","#2800FF","#FFFFFF"]}}}},
{"data":{"name":"spec"},"transform":[{"filter":{"field":"s","equal":"Ensemble-Mittel"}}],"mark":{"type":"line","strokeWidth":3},"encoding":{"y":{"field":"P","type":"quantitative","scale":{"domain":[0,100],"nice":false},"axis":null},"color":{"field":"s","type":"nominal","scale":{"domain":["30-Jahres-Mittel","Hauptlauf","Ensemble-Mittel"],"range":["#FF0000","#2800FF","#FFFFFF"]}}}},
{"data":{"name":"ens"},"mark":{"type":"line","strokeWidth":1},"encoding":{"y":{"field":"T","type":"quantitative","scale":{"domain":[-30,30],"nice":false,"zero":false},"axis":{"orient":"left","values":[-30,-25,-20,-15,-10,-5,0,5,10,15,20,25,30],"title":"Wetterzentrale","titleAngle":0,"titleAlign":"right","titleBaseline":"alphabetic","titleX":628,"titleY":557,"titleFont":"DejaVu Sans","titleFontSize":15,"titleFontWeight":"normal","titleColor":"white","tickSize":5,"labelPadding":2,"grid":true}},"stroke":{"field":"m","type":"nominal","scale":{"domain":["m01","m02","m03","m04","m05","m06","m07","m08","m09","m10","m11","m12","m13","m14"],"range":["#E8561E","#00C8FF","#FFA500","#FF7F00","#FFC800","#FFFF00","#00FF00","#00F080","#20D0A0","#C02020","#1E78FF","#A020F0","#30C030","#FF6A00"]},"legend":null}}},
{"data":{"name":"ens"},"mark":{"type":"point","shape":"M-1,0H1M0,-1V1","filled":false,"size":49,"strokeWidth":1,"opacity":1},"encoding":{"y":{"field":"T","type":"quantitative","scale":{"domain":[-30,30],"nice":false,"zero":false},"axis":null},"stroke":{"field":"m","type":"nominal","scale":{"domain":["m01","m02","m03","m04","m05","m06","m07","m08","m09","m10","m11","m12","m13","m14"],"range":["#E8561E","#00C8FF","#FFA500","#FF7F00","#FFC800","#FFFF00","#00FF00","#00F080","#20D0A0","#C02020","#1E78FF","#A020F0","#30C030","#FF6A00"]},"legend":null}}},
{"data":{"name":"spec"},"transform":[{"filter":{"field":"s","equal":"30-Jahres-Mittel"}}],"mark":{"type":"line","strokeWidth":4.5},"encoding":{"y":{"field":"T","type":"quantitative","scale":{"domain":[-30,30],"nice":false,"zero":false},"axis":null},"color":{"field":"s","type":"nominal","scale":{"domain":["30-Jahres-Mittel","Hauptlauf","Ensemble-Mittel"],"range":["#FF0000","#2800FF","#FFFFFF"]},"legend":{"orient":"top-right","offset":0,"title":null,"symbolType":"M-5,0H5","symbolSize":64,"symbolStrokeWidth":4,"padding":14,"symbolOffset":21,"labelOffset":28,"rowPadding":10,"fillColor":"black","strokeColor":"white","labelColor":"white","labelFont":"DejaVu Sans","labelFontSize":11.5}}}},
{"data":{"name":"spec"},"transform":[{"filter":{"field":"s","equal":"Hauptlauf"}}],"mark":{"type":"line","strokeWidth":4},"encoding":{"y":{"field":"T","type":"quantitative","scale":{"domain":[-30,30],"nice":false,"zero":false},"axis":null},"color":{"field":"s","type":"nominal","scale":{"domain":["30-Jahres-Mittel","Hauptlauf","Ensemble-Mittel"],"range":["#FF0000","#2800FF","#FFFFFF"]}}}},
{"data":{"name":"spec"},"transform":[{"filter":{"field":"s","equal":"Hauptlauf"}}],"mark":{"type":"point","shape":"circle","filled":true,"size":40,"fill":"#2800FF","strokeWidth":0,"opacity":1},"encoding":{"y":{"field":"T","type":"quantitative","scale":{"domain":[-30,30],"nice":false,"zero":false},"axis":null}}},
{"data":{"name":"spec"},"transform":[{"filter":{"field":"s","equal":"Ensemble-Mittel"}}],"mark":{"type":"line","strokeWidth":3.5},"encoding":{"x":{"field":"t","type":"temporal","scale":{"type":"utc","domain":[1135771200000,1137153600000]},"axis":{"orient":"top","labels":false,"ticks":false,"domain":false,"grid":false,"title":"850 hPa Temperatur in Grad C, Niederschlag in mm","titleFont":"DejaVu Sans","titleFontSize":24,"titleFontWeight":"normal","titleColor":"white","titleBaseline":"alphabetic","titlePadding":12}},"y":{"field":"T","type":"quantitative","scale":{"domain":[-30,30],"nice":false,"zero":false},"axis":null},"color":{"field":"s","type":"nominal","scale":{"domain":["30-Jahres-Mittel","Hauptlauf","Ensemble-Mittel"],"range":["#FF0000","#2800FF","#FFFFFF"]}}}}
],
"resolve":{"scale":{"y":"independent"},"axis":{"x":"independent"}},
"config":{
"background":"black",
"view":{"stroke":"white","strokeWidth":2},
"axis":{"labelColor":"white","labelFont":"DejaVu Sans","labelFontSize":9.5,"tickColor":"white","tickWidth":1,"domain":false,"gridColor":"#8c8c8c","gridDash":[3,4],"gridWidth":1,"titleColor":"white"},
"legend":{"strokeWidth":2}
}
}
